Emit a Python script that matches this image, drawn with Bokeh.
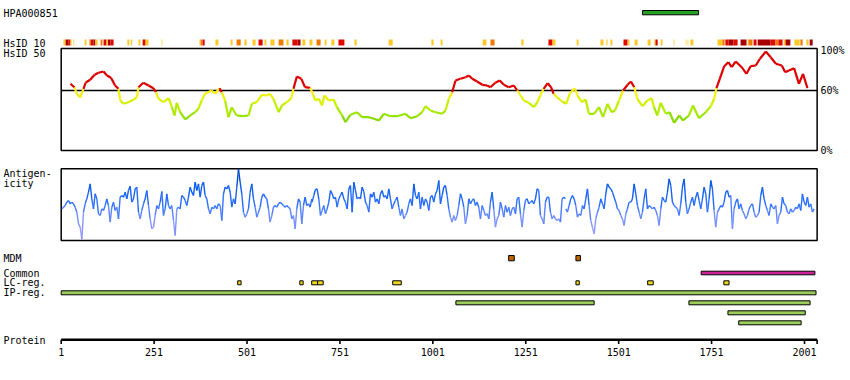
from bokeh.plotting import figure
from bokeh.models import Range1d
from bokeh.core.properties import value
from bokeh.embed import file_html
from bokeh.resources import INLINE

# ---------------- data ----------------
PROT_LEN = 2035
tick_pos = [1, 251, 501, 751, 1001, 1251, 1501, 1751, 2001, 2035]
tick_labels = ["1", "251", "501", "751", "1001", "1251", "1501", "1751", "2001", ""]

hpa_start = [1565]
hpa_end = [1716]

# HsID 10 strip: start, end, level (1 gold, 2 orange, 3 red, 4 dark red, 5 pale)
strip_start = [7, 13, 21, 26, 34, 64, 77, 81, 88, 93, 107, 115, 123, 127, 134, 179, 188, 209, 220, 228, 271,
               373, 376, 381, 416, 457, 473, 494, 516, 532, 548, 564, 586, 607, 623, 637, 650, 669, 688, 710,
               728, 747, 790, 882, 997, 1022, 1135, 1156, 1239, 1312, 1323, 1388, 1452, 1468, 1479,
               1514, 1525, 1544, 1579, 1597, 1600, 1614, 1649, 1681, 1686, 1694, 1767, 1780, 1788, 1797,
               1810, 1829, 1848, 1850, 1864, 1875, 1910, 1923, 1931, 1945, 1950, 1974, 1990, 2006, 2015]
strip_end = [13, 21, 26, 29, 36, 69, 81, 88, 93, 99, 112, 123, 127, 134, 142, 184, 192, 214, 228, 236, 273,
             376, 380, 387, 424, 462, 484, 500, 524, 543, 553, 575, 599, 613, 637, 645, 658, 677, 699, 715,
             736, 763, 796, 893, 1003, 1027, 1145, 1167, 1245, 1323, 1331, 1393, 1460, 1471, 1484,
             1525, 1530, 1552, 1587, 1600, 1606, 1619, 1651, 1684, 1689, 1702, 1780, 1786, 1797, 1810,
             1821, 1845, 1850, 1861, 1872, 1910, 1923, 1931, 1942, 1950, 1963, 1988, 1996, 2012, 2023]
strip_level = [1, 4, 3, 1, 1, 1, 2, 3, 4, 1, 2, 3, 1, 4, 3, 1, 1, 1, 3, 1, 1,
               1, 2, 3, 1, 1, 2, 1, 1, 3, 1, 1, 2, 1, 3, 4, 1, 1, 2, 1,
               1, 3, 1, 1, 1, 1, 1, 2, 1, 3, 1, 1, 1, 1, 1,
               3, 1, 1, 1, 1, 3, 1, 1, 5, 5, 1, 1, 2, 3, 4,
               3, 4, 1, 2, 3, 4, 3, 2, 3, 1, 4, 1, 2, 1, 4]

# HsID 50 curve (% identity)
hsid_pos = [26, 37, 43, 52, 61, 67, 79, 91, 101, 115, 124, 135, 146, 155, 160, 169, 182, 196, 205, 209, 222,
            236, 249, 256, 263, 276, 290, 299, 306, 312, 321, 335, 348, 361, 370, 379, 388, 406, 415, 427,
            433, 442, 451, 460, 473, 491, 505, 514, 527, 541, 554, 563, 572, 586, 595, 608, 620, 626, 635,
            647, 657, 671, 680,
            685, 694, 703, 709, 721, 734, 743, 757, 766, 779, 797, 811, 829, 842, 856, 869, 887, 905, 927,
            941, 959, 972, 981, 995, 1008, 1026, 1035, 1044, 1053, 1062, 1075, 1089, 1098, 1107, 1120, 1134,
            1147, 1156, 1169, 1181, 1192, 1205, 1219, 1228, 1237, 1246, 1259, 1273, 1282, 1290, 1299, 1310,
            1319, 1326, 1335, 1349,
            1360, 1369, 1383, 1390, 1402, 1412, 1421, 1435, 1448, 1459, 1471, 1482, 1491, 1502, 1513, 1525,
            1534, 1543, 1551, 1565, 1578, 1590, 1596, 1605, 1614, 1628, 1638, 1650, 1664, 1674, 1690, 1701,
            1717, 1735, 1749, 1758, 1764, 1773, 1785, 1796, 1805, 1816, 1832, 1845, 1856, 1870, 1881, 1897,
            1910, 1924, 1940, 1949, 1959, 1973, 1986, 1997, 2009]
hsid_val = [66.7, 63, 56.7, 53, 61.7, 68, 70.7, 75.7, 77.7, 79, 75, 72.7, 65, 61.7, 50, 46.7, 48.3, 51, 53.3,
            63.3, 67.7, 65, 62.3, 58.3, 51.7, 48.3, 52.3, 43.3, 35, 47.7, 38.3, 31, 35, 38.3, 41.7, 50, 56.7,
            60, 56.7, 62.3, 58.3, 50, 33.3, 43.3, 35, 34.3, 35, 46.7, 48.3, 55.7, 55, 56.7, 51.7, 38.3, 45,
            48.3, 52.3, 61.7, 74, 71.7, 63.3, 62.7, 55,
            50, 51.7, 45, 55, 50, 51, 43.3, 35, 28.3, 35.7, 38.3, 33.3, 33.3, 31.7, 30, 36.7, 34.3, 34.3,
            36.7, 32.3, 34.3, 38.3, 44.3, 40, 38.3, 36.7, 40, 51.7, 58.3, 70, 71.7, 73.3, 75, 71.7, 69, 65.7,
            65, 63.3, 67.7, 70, 65.7, 63.3, 65, 60, 55, 50, 47.7, 43.3, 48.3, 55, 61.7, 67.3, 63.3, 56.7,
            53.3, 49,
            46.7, 56.7, 62.3, 55, 48.3, 51, 36.7, 36.7, 43.3, 33.3, 46.7, 38.3, 40, 50, 60, 65.7, 69, 63.3,
            51.7, 44.3, 50, 52.3, 43.3, 35, 47.7, 36.7, 38.3, 27.7, 35, 30, 35, 45, 32.3, 38.3, 44.3, 51.7,
            62.3, 71.7, 84.3, 88.3, 83.3, 89, 83.3, 76.7, 84.3, 85, 91.7, 99, 93.3, 86.7, 85, 78.3, 80, 82.3,
            66.7, 76.7, 62.3]
hsid_ticks = [100, 60, 0]
hsid_tick_labels = ["100%", "60%", "0%"]
HSID_LINE = 60

# Antigenicity profile, three consecutive stretches (first residue, step, values)
anti_step = 4.484
anti_first = [2.7, 676.2, 1358.7]
anti_a = [95, 100, 105, 115, 120, 110, 115, 110, 100, 85, 50, 40, 3, 85, 110, 125, 145, 170, 125, 95,
          140, 125, 80, 75, 95, 90, 105, 125, 105, 55, 100, 115, 90, 100, 65, 130, 135, 130, 145, 125,
          150, 163, 115, 125, 155, 160, 85, 65, 90, 110, 125, 150, 105, 65, 35, 40, 75, 105, 95, 115,
          147, 75, 95, 140, 105, 95, 105, 60, 15, 95, 100, 95, 135, 130, 120, 105, 130, 160, 145, 135,
          175, 150, 170, 130, 165, 175, 135, 125, 95, 80, 100, 95, 105, 95, 110, 105,
          60, 140, 160, 155, 165, 145, 100, 125, 110, 160, 215, 175, 140, 85, 70, 80, 95, 145, 170, 125,
          100, 70, 85, 100, 130, 140, 130, 125, 95, 55, 75, 100, 105, 100, 110, 115, 110, 105, 100, 105,
          100, 95, 65, 75, 35, 95, 125, 115, 50, 105, 130, 105, 110, 100, 125]
anti_b = [115, 135, 153, 155, 125, 75, 90, 105, 80, 95, 115, 150, 140, 125, 130, 100, 125, 135, 145, 125,
          115, 95, 155, 165, 85, 175, 150, 125, 130, 125, 160, 147, 115, 105, 85, 140, 130, 145, 115, 125,
          110, 140, 150, 130, 135, 125, 155, 125, 95, 110, 120, 130, 100, 75, 95, 65, 75, 85, 110, 125,
          105, 170, 135, 125, 145, 95, 130, 105, 125, 115, 90, 130, 135, 115, 140, 150, 180, 110, 135, 160,
          165, 135, 95, 70, 55, 75, 60, 75, 105, 140, 125, 100, 50, 75, 125, 110, 120, 125, 105, 115,
          100, 65, 105, 90, 75, 80, 65, 115, 145, 95, 40, 65, 75, 115, 95, 70, 105, 85, 100, 75,
          95, 100, 80, 125, 130, 80, 40, 90, 120, 125, 110, 115, 120, 110, 125, 155, 150, 75, 65, 50,
          115, 130, 130, 85, 65, 75, 65, 60, 65, 55, 125, 130, 125]
anti_c = [95, 85, 105, 125, 135, 125, 105, 70, 80, 75, 105, 95, 125, 155, 105, 60, 40, 20, 65, 85,
          100, 125, 110, 95, 140, 170, 160, 155, 145, 130, 115, 95, 90, 75, 65, 45, 80, 95, 115, 115,
          125, 170, 140, 105, 85, 65, 85, 125, 155, 95, 105, 100, 95, 100, 90, 75, 45, 95, 130, 120,
          115, 145, 185, 165, 115, 105, 100, 95, 75, 110, 160, 185, 115, 80, 95, 115, 130, 105, 130, 145,
          120, 95, 125, 160, 140, 85, 125, 180, 155, 90, 40, 85, 95, 105, 100, 115, 145, 150, 130, 135,
          35, 95, 115, 125, 95, 110, 90, 80, 65, 75, 95, 105, 110, 85, 70, 75, 85, 135, 160, 125,
          105, 90, 75, 110, 100, 95, 105, 50, 75, 85, 130, 110, 105, 85, 80, 95, 85, 90, 100, 95,
          110, 90, 140, 115, 105, 130, 100, 110, 85, 95]
ANTI_MAX = 215

# feature tracks (residue start / end)
mdm_start = [1205, 1386]
mdm_end = [1220, 1398]
common_start = [1723]
common_end = [2029]
lc_start = [476, 643, 675, 691, 893, 1386, 1579, 1784]
lc_end = [485, 652, 691, 706, 916, 1395, 1594, 1798]
ip_start = [1, 1063, 1690, 1795, 1824]
ip_end = [2032, 1435, 2016, 2003, 1992]
ip_row = [0, 1, 1, 2, 3]

# ---------------- layout / styles ----------------
FONT = value("DejaVu Sans Mono")
FS = "10px"
W, H = 850, 372
RES_PER_PX = 1 / 0.37165
X0 = 1 + (0 - 60.7) * RES_PER_PX
X1 = 1 + (W - 60.7) * RES_PER_PX

STRIP_COLORS = {1: "#FFC825", 2: "#F07A00", 3: "#DD0A00", 4: "#A80000", 5: "#FFE27A"}


def lerp(stops, t):
    t = max(stops[0][0], min(stops[-1][0], t))
    for (t0, c0), (t1, c1) in zip(stops[:-1], stops[1:]):
        if t0 <= t <= t1:
            f = 0 if t1 == t0 else (t - t0) / (t1 - t0)
            r, g, b = (round(a + (bb - a) * f) for a, bb in zip(c0, c1))
            return "#%02x%02x%02x" % (r, g, b)
    return "#000000"


def hsid_color(v):
    if v >= HSID_LINE:
        return "#DD0000"
    return lerp([(25, (95, 195, 0)), (35, (150, 228, 0)), (45, (195, 240, 0)),
                 (52, (228, 242, 0)), (60, (255, 240, 30))], v)


def anti_color(v):
    return lerp([(0, (175, 165, 255)), (0.3, (120, 145, 255)), (0.5, (45, 112, 255)),
                 (0.75, (10, 92, 232)), (1.0, (0, 68, 170))], v / ANTI_MAX)


p = figure(width=W, height=H, output_backend="svg", toolbar_location=None,
           x_range=Range1d(X0, X1), y_range=Range1d(H, 0),
           x_axis_type=None, y_axis_type=None,
           min_border_left=0, min_border_right=0, min_border_top=0, min_border_bottom=0)
p.outline_line_color = None
p.background_fill_color = "white"
p.border_fill_color = "white"
p.extra_x_ranges = {"px": Range1d(0, W)}
p.extra_y_ranges = {"hsid": Range1d(150 - H, 150), "anti": Range1d(3 * (240 - H), 3 * 240)}

# protein axis (drawn from the tick positions)
AXIS_Y = 339.2
p.segment(x0=1, x1=PROT_LEN, y0=AXIS_Y, y1=AXIS_Y, line_color="black", line_width=2.6)
p.segment(x0=tick_pos, x1=tick_pos, y0=AXIS_Y, y1=AXIS_Y + 4.3, line_color="black", line_width=1.6)
p.text(x=tick_pos, y=AXIS_Y + 12.5, text=tick_labels, text_font=FONT, text_font_size=FS,
       text_baseline="middle", text_align="center", text_color="black")

# HPA antigen bar
p.quad(left=hpa_start, right=hpa_end, top=10, bottom=14.3, fill_color="#22A022",
       line_color="black", line_width=1)

# HsID 10 strip
p.quad(left=strip_start, right=strip_end, top=39, bottom=45,
       fill_color=[STRIP_COLORS[l] for l in strip_level], line_color=None)

# HsID 50 box, 60% line and curve
p.quad(left=1, right=PROT_LEN, bottom=0, top=102, fill_color=None, line_color="black",
       line_width=1.5, y_range_name="hsid")
p.segment(x0=1, x1=PROT_LEN, y0=HSID_LINE, y1=HSID_LINE, line_color="black", line_width=1.3,
          y_range_name="hsid")
p.segment(x0=hsid_pos[:-1], x1=hsid_pos[1:], y0=hsid_val[:-1], y1=hsid_val[1:],
          line_color=[hsid_color((a + b) / 2) for a, b in zip(hsid_val[:-1], hsid_val[1:])],
          line_width=2.2, y_range_name="hsid")
p.text(x=[820] * 3, y=[150 - t for t in hsid_ticks], text=hsid_tick_labels,
       x_range_name="px", text_font=FONT, text_font_size=FS, text_baseline="middle",
       text_align="left", text_color="black")

# Antigenicity box and profile
p.quad(left=1, right=PROT_LEN, bottom=0, top=ANTI_MAX, fill_color=None, line_color="black",
       line_width=1.5, y_range_name="anti")
for first, vals in zip(anti_first, [anti_a, anti_b, anti_c]):
    xs = [first + i * anti_step for i in range(len(vals))]
    p.segment(x0=xs[:-1], x1=xs[1:], y0=vals[:-1], y1=vals[1:],
              line_color=[anti_color((a + b) / 2) for a, b in zip(vals[:-1], vals[1:])],
              line_width=1.4, y_range_name="anti")

# feature tracks
p.quad(left=mdm_start, right=mdm_end, top=255, bottom=260.3, fill_color="#C06400",
       line_color="black", line_width=1)
p.quad(left=common_start, right=common_end, top=270.7, bottom=274.3, fill_color="#CC2299",
       line_color="black", line_width=1)
p.quad(left=lc_start, right=lc_end, top=280.3, bottom=284.3, fill_color="#EED820",
       line_color="black", line_width=1)
ROW_Y = [290.3, 300.3, 310.3, 320.3]
p.quad(left=ip_start, right=ip_end, top=[ROW_Y[r] for r in ip_row],
       bottom=[ROW_Y[r] + 4 for r in ip_row], fill_color="#9ACD5A",
       line_color="black", line_width=1)

# left labels
labels = ["HPA000851", "HsID 10", "HsID 50", "Antigen-", "icity", "MDM", "Common", "LC-reg.",
          "IP-reg.", "Protein"]
label_y = [12.5, 42.5, 52.5, 172.7, 182.5, 258, 273, 282.3, 292.3, 340.3]
p.text(x=[3] * len(labels), y=label_y, text=labels, x_range_name="px",
       text_font=FONT, text_font_size=FS, text_baseline="middle", text_align="left",
       text_color="black")

open("out.html", "w").write(file_html(p, INLINE))
